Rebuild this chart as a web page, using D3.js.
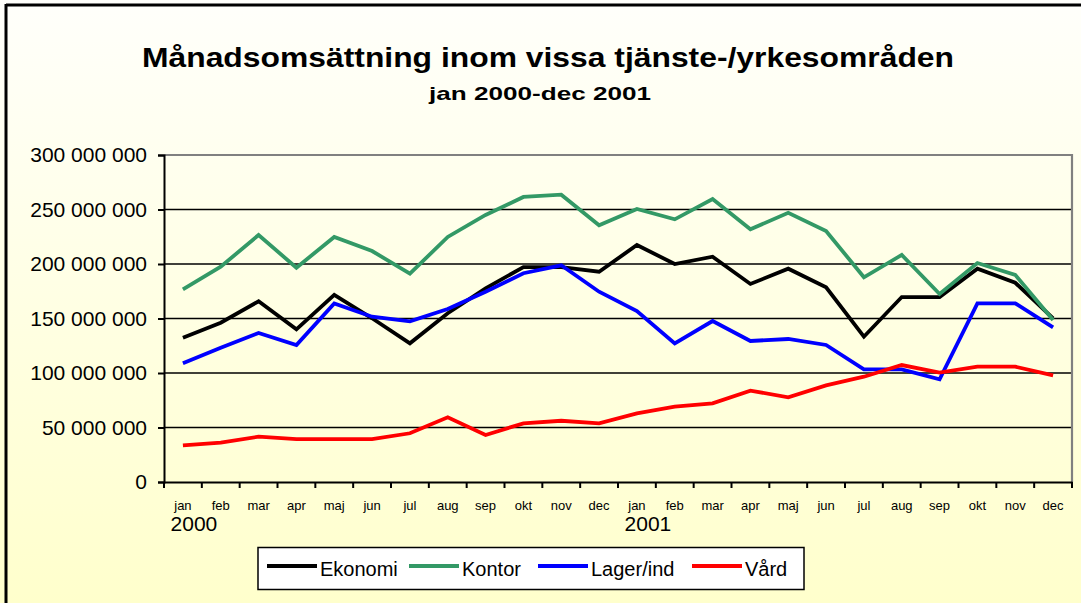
<!DOCTYPE html>
<html>
<head>
<meta charset="utf-8">
<script src="https://cdn.jsdelivr.net/npm/d3@7"></script>
<style>
  body { margin: 0; }
  svg { display: block; font-family: "Liberation Sans", Arial, sans-serif; }
</style>
</head>
<body>
<svg id="chart" width="1081" height="603"></svg>
<script>
let months = ["jan","feb","mar","apr","maj","jun","jul","aug","sep","okt","nov","dec"];
let years = ["2000","2001"];
let categories = [];
years.forEach(y => months.forEach(m => categories.push(y + "-" + m)));

// values in millions kr
let ekonomi = [132.4,146.1,165.8,140.1,171.6,150.2,127.2,154.8,177.7,197.2,197.2,192.9,
               217.4,200.0,206.7,181.7,195.7,178.6,133.3,169.7,169.7,195.7,182.8,150.2];
let kontor  = [176.8,197.5,226.6,196.6,224.8,211.9,191.1,224.8,245.0,261.5,263.6,235.5,
               250.5,241.0,259.6,231.8,247.0,230.3,187.8,208.3,172.5,200.9,190.0,148.6];
let lager   = [108.9,123.2,136.7,125.7,163.9,151.6,147.4,158.7,174.6,191.5,198.8,174.6,
               156.9,127.2,147.7,129.4,131.2,125.7,103.4,103.4,94.2,163.9,163.9,141.9];
let vard    = [33.6,36.1,41.6,39.4,39.4,39.4,44.7,59.4,43.1,53.8,56.2,53.8,
               63.0,69.1,72.2,83.8,77.7,88.7,96.6,107.3,100.3,105.8,105.8,97.9];

let seriesNames = ["Ekonomi","Kontor","Lager/ind","Vård"];
let seriesColors = ["#000000","#339966","#0000ff","#ff0000"];
let seriesData = [ekonomi, kontor, lager, vard];
let yTicks = [0,50,100,150,200,250,300];

let svg = d3.select("#chart");

// background gradient
let defs = svg.append("defs");
let grad = defs.append("linearGradient").attr("id","bg")
    .attr("x1",0).attr("y1",0).attr("x2",0).attr("y2",1);
grad.append("stop").attr("offset","0%").attr("stop-color","#fffffb");
grad.append("stop").attr("offset","100%").attr("stop-color","#ffffcc");

svg.append("rect").attr("x",0).attr("y",0).attr("width",1081).attr("height",603)
    .attr("fill","url(#bg)");

// outer border (top + left)
svg.append("line").attr("x1",6).attr("y1",5).attr("x2",1081).attr("y2",5)
    .attr("stroke","#000").attr("stroke-width",3);
svg.append("line").attr("x1",6).attr("y1",4).attr("x2",6).attr("y2",603)
    .attr("stroke","#000").attr("stroke-width",3);

// titles
svg.append("text").attr("x",548).attr("y",67).attr("text-anchor","middle")
    .attr("font-size",27).attr("font-weight","bold")
    .attr("textLength",812).attr("lengthAdjust","spacingAndGlyphs")
    .text("Månadsomsättning inom vissa tjänste-/yrkesområden");
svg.append("text").attr("x",540).attr("y",100).attr("text-anchor","middle")
    .attr("font-size",19).attr("font-weight","bold")
    .attr("textLength",222).attr("lengthAdjust","spacingAndGlyphs")
    .text("jan 2000-dec 2001");

let pLeft = 164, pRight = 1072, pTop = 155, pBottom = 482;

let x = d3.scaleBand().domain(categories).range([pLeft, pRight]);
let y = d3.scaleLinear().domain([0,300]).range([pBottom, pTop]);

// gridlines
svg.append("g").selectAll("line").data(yTicks.slice(1,-1)).join("line")
    .attr("x1",pLeft).attr("x2",pRight)
    .attr("y1",d => y(d)).attr("y2",d => y(d))
    .attr("stroke","#000").attr("stroke-width",1.5);

// plot frame top/right (gray)
svg.append("path")
    .attr("d", `M${pLeft},${pTop}H${pRight}V${pBottom}`)
    .attr("fill","none").attr("stroke","#808080").attr("stroke-width",2.2);

// y axis
let fmt = v => v === 0 ? "0" : d3.format(",")(v * 1e6).replace(/,/g," ");
let yAxis = svg.append("g").attr("transform",`translate(${pLeft},0)`)
    .call(d3.axisLeft(y).tickValues(yTicks).tickSize(6).tickPadding(11).tickFormat(fmt));
yAxis.select(".domain").attr("stroke","#000").attr("stroke-width",2);
yAxis.selectAll(".tick line").attr("stroke","#000").attr("stroke-width",2);
yAxis.selectAll("text").attr("font-size",21).attr("fill","#000")
    .attr("font-family","Liberation Sans, Arial, sans-serif");

// x axis
let xAxis = svg.append("g").attr("transform",`translate(0,${pBottom})`)
    .call(d3.axisBottom(x).tickSize(0).tickPadding(19).tickFormat(d => d.split("-")[1]));
xAxis.select(".domain").attr("stroke","#000").attr("stroke-width",2);
xAxis.selectAll("text").attr("font-size",13).attr("fill","#000")
    .attr("font-family","Liberation Sans, Arial, sans-serif");

// x ticks at band boundaries
let boundaries = categories.map(c => x(c)).concat([pRight]);
svg.append("g").selectAll("line").data(boundaries).join("line")
    .attr("x1",d => d).attr("x2",d => d).attr("y1",pBottom).attr("y2",pBottom + 6)
    .attr("stroke","#000").attr("stroke-width",2);

// year labels
svg.append("g").selectAll("text").data(years).join("text")
    .attr("x",d => x(d + "-jan") + x.bandwidth() / 2 + 11)
    .attr("y",531).attr("text-anchor","middle").attr("font-size",21)
    .text(d => d);

// lines
let line = d3.line()
    .x((d,i) => x(categories[i]) + x.bandwidth() / 2)
    .y(d => y(d));

svg.append("g").selectAll("path").data(seriesData).join("path")
    .attr("d", d => line(d))
    .attr("fill","none")
    .attr("stroke",(d,i) => seriesColors[i])
    .attr("stroke-width",3.8)
    .attr("stroke-linejoin","miter");

// legend
let lg = svg.append("g");
lg.append("rect").attr("x",258).attr("y",547.5).attr("width",546).attr("height",42)
    .attr("fill","#fff").attr("stroke","#000").attr("stroke-width",1.5);
let legendX = [267, 409, 538, 692];
let items = lg.selectAll("g").data(seriesNames).join("g")
    .attr("transform",(d,i) => `translate(${legendX[i]},566)`);
items.append("line").attr("x1",0).attr("x2",50).attr("y1",0).attr("y2",0)
    .attr("stroke",(d,i) => seriesColors[i]).attr("stroke-width",3.8);
items.append("text").attr("x",53).attr("y",10).attr("font-size",20).text(d => d);
</script>
</body>
</html>
